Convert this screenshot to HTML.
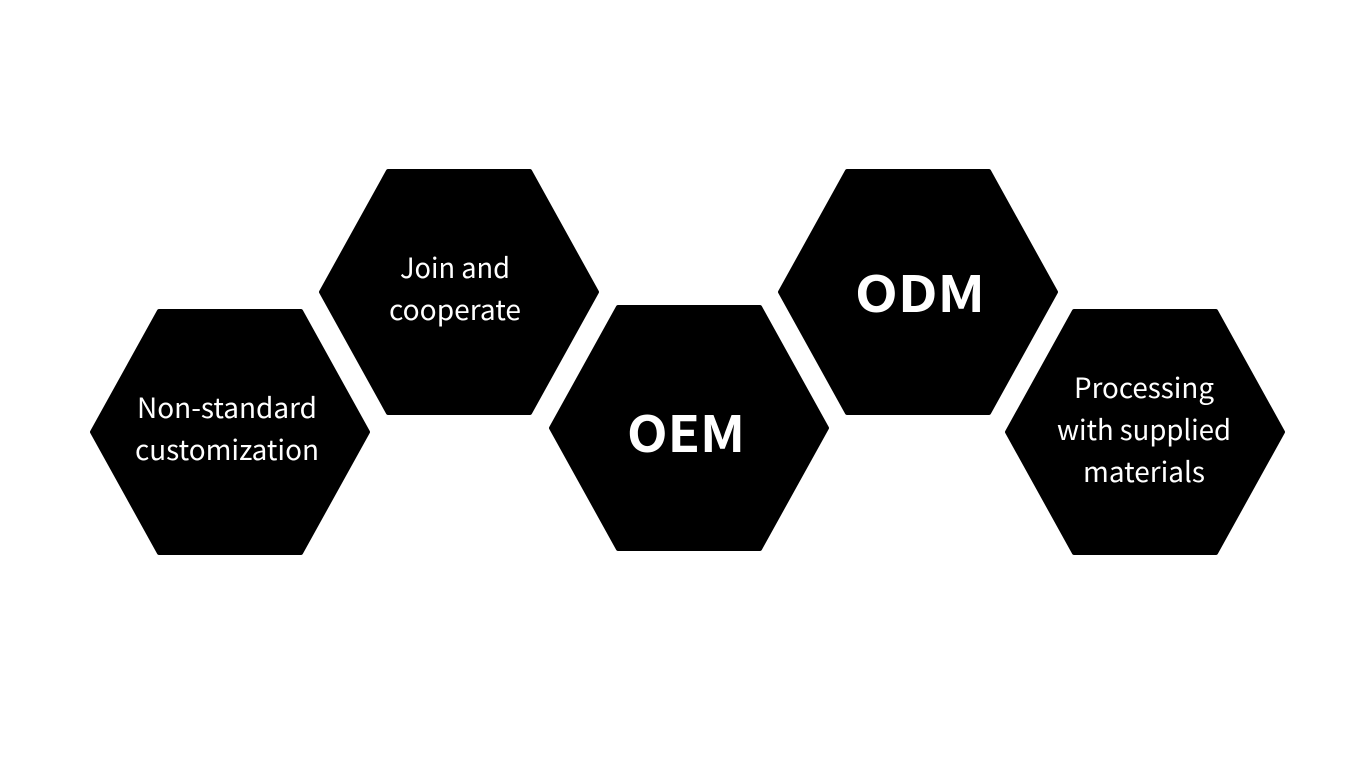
<!DOCTYPE html>
<html><head><meta charset="utf-8"><style>html,body{margin:0;padding:0;background:#fff;width:1366px;height:768px;overflow:hidden}</style></head>
<body>
<svg width="1366" height="768" viewBox="0 0 1366 768" xmlns="http://www.w3.org/2000/svg">
<g fill="#000" stroke="#000" stroke-width="4" stroke-linejoin="round">
<polygon points="92,432 159,311 301,311 368,432 301,553 159,553"/>
<polygon points="321,292 388,171 530,171 597,292 530,413 388,413"/>
<polygon points="551,428 618,307 760,307 827,428 760,549 618,549"/>
<polygon points="780,292 847,171 989,171 1056,292 989,413 847,413"/>
<polygon points="1007,432 1074,311 1216,311 1283,432 1216,553 1074,553"/>
</g>
<g fill="#fff" font-family="'Noto Sans CJK SC','Liberation Sans',sans-serif" text-anchor="middle" font-size="28">
<text x="227" y="418" textLength="180" lengthAdjust="spacingAndGlyphs">Non-standard</text>
<text x="227" y="460" textLength="184" lengthAdjust="spacingAndGlyphs">customization</text>
<text x="455" y="278" textLength="110" lengthAdjust="spacingAndGlyphs">Join and</text>
<text x="455" y="320" textLength="132" lengthAdjust="spacingAndGlyphs">cooperate</text>
<text x="1144" y="398" textLength="140" lengthAdjust="spacingAndGlyphs">Processing</text>
<text x="1144" y="440" textLength="174" lengthAdjust="spacingAndGlyphs">with supplied</text>
<text x="1144" y="482" textLength="122" lengthAdjust="spacingAndGlyphs">materials</text>
<text x="686" y="452" font-size="50" font-weight="bold" textLength="118" lengthAdjust="spacingAndGlyphs">OEM</text>
<text x="920" y="312" font-size="50" font-weight="bold" textLength="130" lengthAdjust="spacingAndGlyphs">ODM</text>
</g>
</svg>
</body></html>
